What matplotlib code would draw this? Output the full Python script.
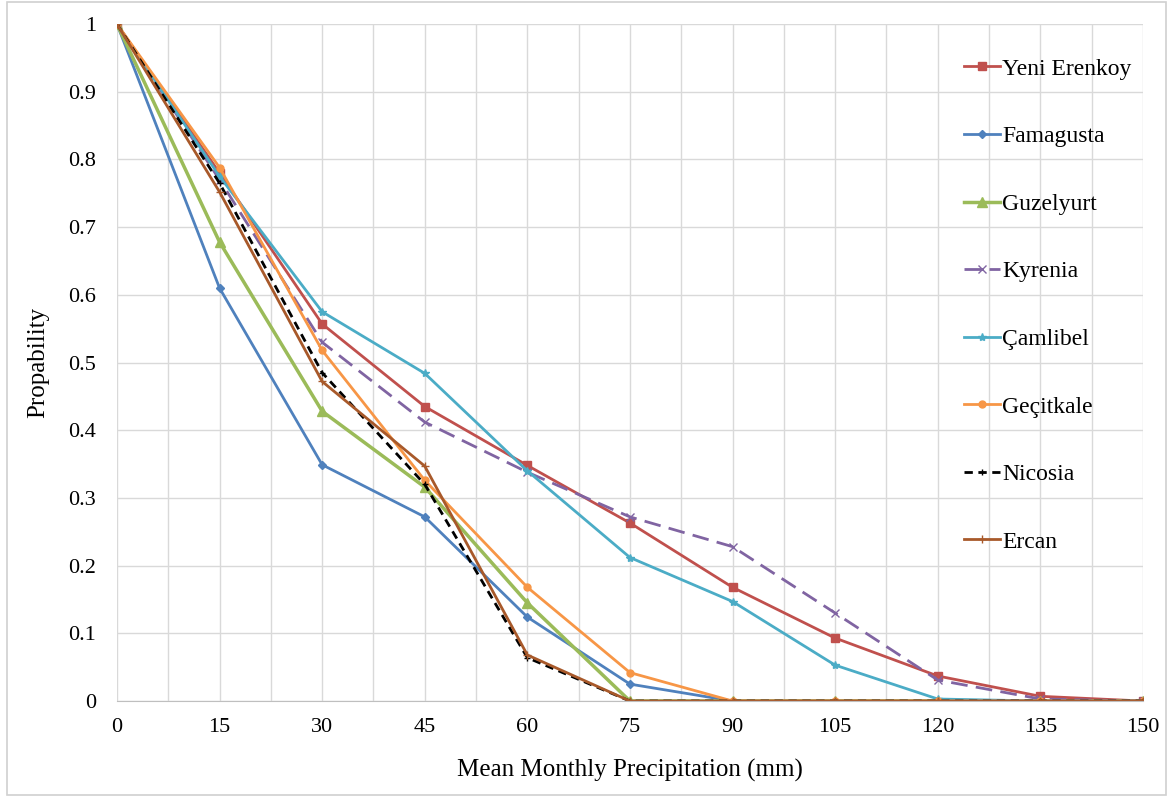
import matplotlib
matplotlib.use("Agg")
import matplotlib.pyplot as plt
from matplotlib.patches import Rectangle

# precipitation levels (mm)
precip = [0, 15, 30, 45, 60, 75, 90, 105, 120, 135, 150]

yeni_erenkoy = [1, 0.78, 0.557, 0.435, 0.348, 0.263, 0.168, 0.093, 0.037, 0.007, 0]
famagusta = [1, 0.61, 0.349, 0.272, 0.124, 0.025, 0, 0, 0, 0, 0]
guzelyurt = [1, 0.678, 0.428, 0.316, 0.145, 0, 0, 0, 0, 0, 0]
kyrenia = [1, 0.77, 0.53, 0.412, 0.338, 0.272, 0.228, 0.13, 0.031, 0.003, 0]
camlibel = [1, 0.775, 0.575, 0.484, 0.34, 0.212, 0.147, 0.053, 0.003, 0, 0]
gecitkale = [1, 0.788, 0.518, 0.326, 0.168, 0.042, 0, 0, 0, 0, 0]
nicosia = [1, 0.765, 0.485, 0.32, 0.064, 0, 0, 0, 0, 0, 0]
ercan = [1, 0.752, 0.472, 0.347, 0.068, 0, 0, 0, 0, 0, 0]

yticks = [0, 0.1, 0.2, 0.3, 0.4, 0.5, 0.6, 0.7, 0.8, 0.9, 1]
ytick_labels = ['0', '0.1', '0.2', '0.3', '0.4', '0.5', '0.6', '0.7', '0.8', '0.9', '1']

plt.rcParams['font.family'] = ['Liberation Serif', 'DejaVu Serif']

fig = plt.figure(figsize=(11.73, 8.01), dpi=100)
ax = fig.add_axes([0.0997, 0.1248, 0.8747, 0.8452])

# outer chart border
fig.patches.append(Rectangle((0.006, 0.008), 0.988, 0.99, transform=fig.transFigure,
                             fill=False, edgecolor='#D0D0D0', linewidth=1.2))

ax.plot(precip, yeni_erenkoy, color='#C0504D', marker='s', markersize=6, lw=2, label='Yeni Erenkoy')
ax.plot(precip, famagusta, color='#4F81BD', marker='D', markersize=4, lw=2, label='Famagusta')
ax.plot(precip, guzelyurt, color='#9BBB59', marker='^', markersize=7, lw=2.5, label='Guzelyurt')
ax.plot(precip, kyrenia, color='#8064A2', marker='x', markersize=6, lw=2, dashes=(6, 3), label='Kyrenia')
ax.plot(precip, camlibel, color='#4BACC6', marker='*', markersize=6, lw=2, label='Çamlibel')
ax.plot(precip, gecitkale, color='#F79646', marker='o', markersize=5, lw=2, label='Geçitkale')
ax.plot(precip, nicosia, color='black', marker='+', markersize=5, lw=2, dashes=(3, 2), label='Nicosia')
ax.plot(precip, ercan, color='#A8592A', marker='+', markersize=6, lw=2, label='Ercan')

ax.set_xlim(0, 150)
ax.set_ylim(0, 1)
ax.set_xticks(precip)
ax.set_xticks([p + 7.5 for p in precip[:-1]], minor=True)
ax.set_yticks(yticks)
ax.set_yticklabels(ytick_labels)
ax.grid(which='both', axis='x', color='#D9D9D9', lw=1)
ax.grid(which='major', axis='y', color='#D9D9D9', lw=1)
ax.set_axisbelow(True)

for s in ['top', 'right', 'left']:
    ax.spines[s].set_visible(False)
ax.spines['bottom'].set_color('#BFBFBF')
ax.tick_params(which='both', length=0, labelsize=16)
ax.tick_params(axis='x', pad=12)
ax.tick_params(axis='y', pad=15)

ax.set_xlabel('Mean Monthly Precipitation (mm)', fontsize=18, labelpad=16)
ax.set_ylabel('Propability', fontsize=18, labelpad=14)

leg = ax.legend(loc='upper left', bbox_to_anchor=(0.805, 0.981), frameon=False,
                fontsize=17, labelspacing=1.95, handlelength=1.5, handletextpad=0.1)

fig.savefig('out.png', dpi=100)
